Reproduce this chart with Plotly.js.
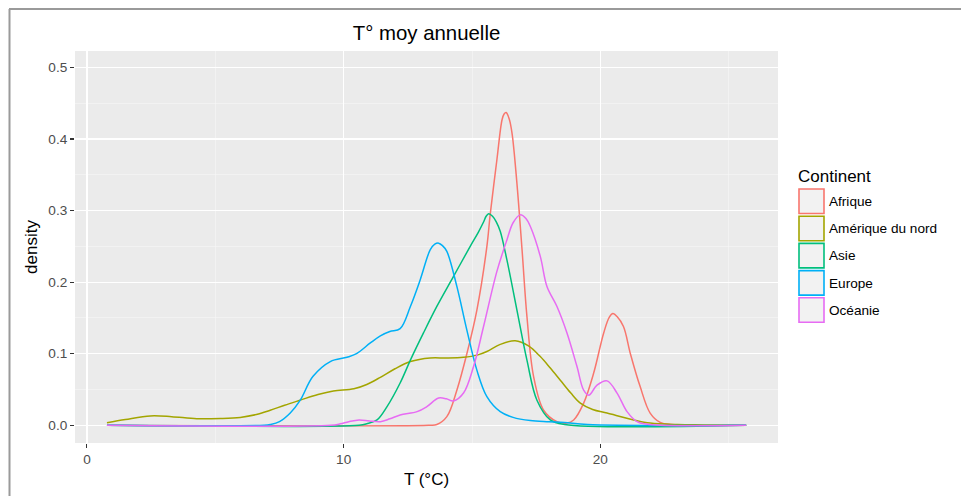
<!DOCTYPE html>
<html>
<head>
<meta charset="utf-8">
<script src="https://cdn.plot.ly/plotly-3.0.1.min.js"></script>
<style>html,body{margin:0;padding:0;background:#fff;}#chart{width:961px;height:496px;}</style>
</head>
<body>
<div id="chart"></div>
<script>
// ---- data ----
const continents = ["Afrique", "Amérique du nord", "Asie", "Europe", "Océanie"];
const colors = ["#F8766D", "#A3A500", "#00BF7D", "#00B0F6", "#E76BF3"];

const afriqueX = [0.78, 13.3, 13.63, 14.02, 14.41, 14.8, 15.19, 15.58, 15.71, 15.97, 16.17, 16.25, 16.33, 16.45, 16.56, 16.75, 16.95, 17.14, 17.4, 17.79, 18.31, 18.7, 18.96, 19.35, 19.74, 20.13, 20.35, 20.49, 20.65, 20.9, 21.17, 21.55, 21.94, 22.33, 22.8, 25.68];
const afriqueY = [0, 0, 0.001, 0.012, 0.049, 0.1, 0.161, 0.25, 0.295, 0.371, 0.427, 0.435, 0.437, 0.428, 0.408, 0.338, 0.245, 0.152, 0.068, 0.021, 0.005, 0.003, 0.0074, 0.031, 0.073, 0.129, 0.151, 0.156, 0.152, 0.138, 0.1, 0.054, 0.017, 0.004, 0.001, 0];

const ameriqueX = [0.78, 1.5, 2.47, 3.3, 4.28, 5.2, 5.97, 6.6, 7.14, 7.7, 8.3, 9.0, 9.6, 10.4, 10.9, 11.43, 12.0, 12.6, 13.37, 14.0, 14.67, 15.2, 15.58, 16.1, 16.68, 17.2, 17.66, 18.05, 18.44, 18.85, 19.22, 19.7, 20.26, 21.3, 21.94, 23.0, 24.0, 25.68];
const ameriqueY = [0.0036, 0.008, 0.013, 0.012, 0.0092, 0.0095, 0.011, 0.015, 0.021, 0.028, 0.035, 0.043, 0.048, 0.051, 0.057, 0.067, 0.079, 0.089, 0.094, 0.094, 0.095, 0.098, 0.103, 0.113, 0.118, 0.111, 0.096, 0.08, 0.063, 0.045, 0.031, 0.022, 0.017, 0.0074, 0.003, 0.001, 0.0005, 0];

const asieX = [0.78, 10.6, 10.9, 11.3, 11.69, 12.2, 12.6, 13.11, 13.63, 14.28, 14.93, 15.25, 15.45, 15.55, 15.65, 15.8, 15.95, 16.1, 16.36, 16.75, 17.14, 17.53, 18.05, 18.6, 25.68];
const asieY = [0, 0, 0.002, 0.0074, 0.026, 0.059, 0.091, 0.129, 0.166, 0.208, 0.25, 0.27, 0.284, 0.292, 0.2955, 0.292, 0.284, 0.271, 0.231, 0.161, 0.091, 0.035, 0.0074, 0.001, 0];

const europeX = [0.78, 6.9, 7.14, 7.5, 7.92, 8.31, 8.8, 9.48, 10.13, 10.5, 11.04, 11.43, 11.8, 12.2, 12.6, 12.98, 13.37, 13.55, 13.7, 13.85, 14.02, 14.41, 14.8, 15.19, 15.58, 16.1, 16.6, 17.27, 18.0, 18.6, 19.5, 25.68];
const europeY = [0, 0, 0.001, 0.005, 0.017, 0.035, 0.068, 0.089, 0.095, 0.1, 0.115, 0.125, 0.131, 0.135, 0.166, 0.203, 0.245, 0.253, 0.2545, 0.251, 0.243, 0.194, 0.133, 0.077, 0.040, 0.019, 0.011, 0.0065, 0.005, 0.004, 0.001, 0];

const oceanieX = [0.78, 9.5, 9.87, 10.2, 10.6, 11.0, 11.43, 11.8, 12.2, 12.86, 13.24, 13.7, 14.0, 14.28, 14.67, 15.06, 15.45, 15.97, 16.36, 16.6, 16.88, 17.1, 17.27, 17.66, 17.92, 18.31, 18.7, 19.09, 19.35, 19.55, 19.87, 20.26, 20.65, 21.04, 21.43, 21.9, 25.68];
const oceanieY = [0, 0, 0.002, 0.005, 0.0074, 0.006, 0.005, 0.009, 0.0144, 0.019, 0.026, 0.038, 0.037, 0.034, 0.045, 0.082, 0.138, 0.215, 0.259, 0.283, 0.294, 0.289, 0.278, 0.236, 0.194, 0.166, 0.129, 0.082, 0.049, 0.042, 0.056, 0.062, 0.045, 0.019, 0.005, 0.001, 0];

const xTickVals = [0, 10, 20];
const yTickVals = [0.0, 0.1, 0.2, 0.3, 0.4, 0.5];
const yTickText = ["0.0", "0.1", "0.2", "0.3", "0.4", "0.5"];

const seriesX = [afriqueX, ameriqueX, asieX, europeX, oceanieX];
const seriesY = [afriqueY, ameriqueY, asieY, europeY, oceanieY];

// ---- figure ----
const W = 961, H = 496;
const M = {l: 75, r: 183, t: 51, b: 53};
const pw = W - M.l - M.r, ph = H - M.t - M.b;
const px = x => (x - M.l) / pw;          // pixel -> paper x
const py = y => (H - M.b - y) / ph;      // pixel -> paper y

const FONT = "Liberation Sans, Arial, sans-serif";

const traces = continents.map((name, i) => ({
  type: "scatter", mode: "lines", name: name,
  x: seriesX[i], y: seriesY[i],
  line: {color: colors[i], width: 1.5, shape: "spline", smoothing: 1},
  showlegend: false, hoverinfo: "skip"
}));

const shapes = [];
const annotations = [];

// outer frame (top and left)
shapes.push({type: "line", xref: "paper", yref: "paper", x0: px(9), x1: px(961), y0: py(9), y1: py(9), line: {color: "#9a9a9a", width: 2}, layer: "above"});
shapes.push({type: "line", xref: "paper", yref: "paper", x0: px(9.5), x1: px(9.5), y0: py(9), y1: py(496), line: {color: "#9a9a9a", width: 2}, layer: "above"});

// legend
annotations.push({xref: "paper", yref: "paper", x: px(796), y: py(176), xanchor: "left", yanchor: "middle", showarrow: false, text: "Continent", font: {family: FONT, size: 17, color: "#000"}});
continents.forEach((name, i) => {
  const top = 189 + i * 27.2;
  shapes.push({type: "rect", xref: "paper", yref: "paper", x0: px(799), x1: px(824), y0: py(top), y1: py(top + 24.5), fillcolor: "#F2F2F2", line: {color: colors[i], width: 1.6}});
  annotations.push({xref: "paper", yref: "paper", x: px(827), y: py(top + 12.5), xanchor: "left", yanchor: "middle", showarrow: false, text: name, font: {family: FONT, size: 13.6, color: "#000"}});
});

const layout = {
  width: W, height: H,
  margin: M,
  paper_bgcolor: "#ffffff",
  plot_bgcolor: "#EBEBEB",
  font: {family: FONT},
  showlegend: false,
  title: {text: "T° moy annuelle", x: 426.5 / W, xref: "container", xanchor: "center", y: 1 - 33 / H, yref: "container", yanchor: "middle", font: {family: FONT, size: 20.4, color: "#000"}},
  xaxis: {
    range: [-0.465, 26.92], tickvals: xTickVals, ticktext: xTickVals.map(String),
    showgrid: true, gridcolor: "#ffffff", gridwidth: 1.2, zeroline: false,
    minor: {dtick: 5, tick0: 5, showgrid: true, gridcolor: "#F7F7F7", gridwidth: 0.6, ticks: ""},
    ticks: "outside", ticklen: 4, tickcolor: "#333333", tickwidth: 1.1,
    tickfont: {family: FONT, size: 13.6, color: "#4D4D4D"},
    title: {text: "T (°C)", font: {family: FONT, size: 17, color: "#000"}, standoff: 6},
    showline: false, fixedrange: true
  },
  yaxis: {
    range: [-0.0248, 0.523], tickvals: yTickVals, ticktext: yTickText,
    showgrid: true, gridcolor: "#ffffff", gridwidth: 1.2, zeroline: false,
    minor: {dtick: 0.05, tick0: 0.05, showgrid: true, gridcolor: "#F7F7F7", gridwidth: 0.6, ticks: ""},
    ticks: "outside", ticklen: 4, tickcolor: "#333333", tickwidth: 1.1,
    tickfont: {family: FONT, size: 13.6, color: "#4D4D4D"},
    title: {text: "density", font: {family: FONT, size: 17, color: "#000"}, standoff: 6},
    showline: false, fixedrange: true
  },
  shapes: shapes,
  annotations: annotations
};

Plotly.newPlot("chart", traces, layout, {displayModeBar: false, staticPlot: true});
</script>
</body>
</html>
